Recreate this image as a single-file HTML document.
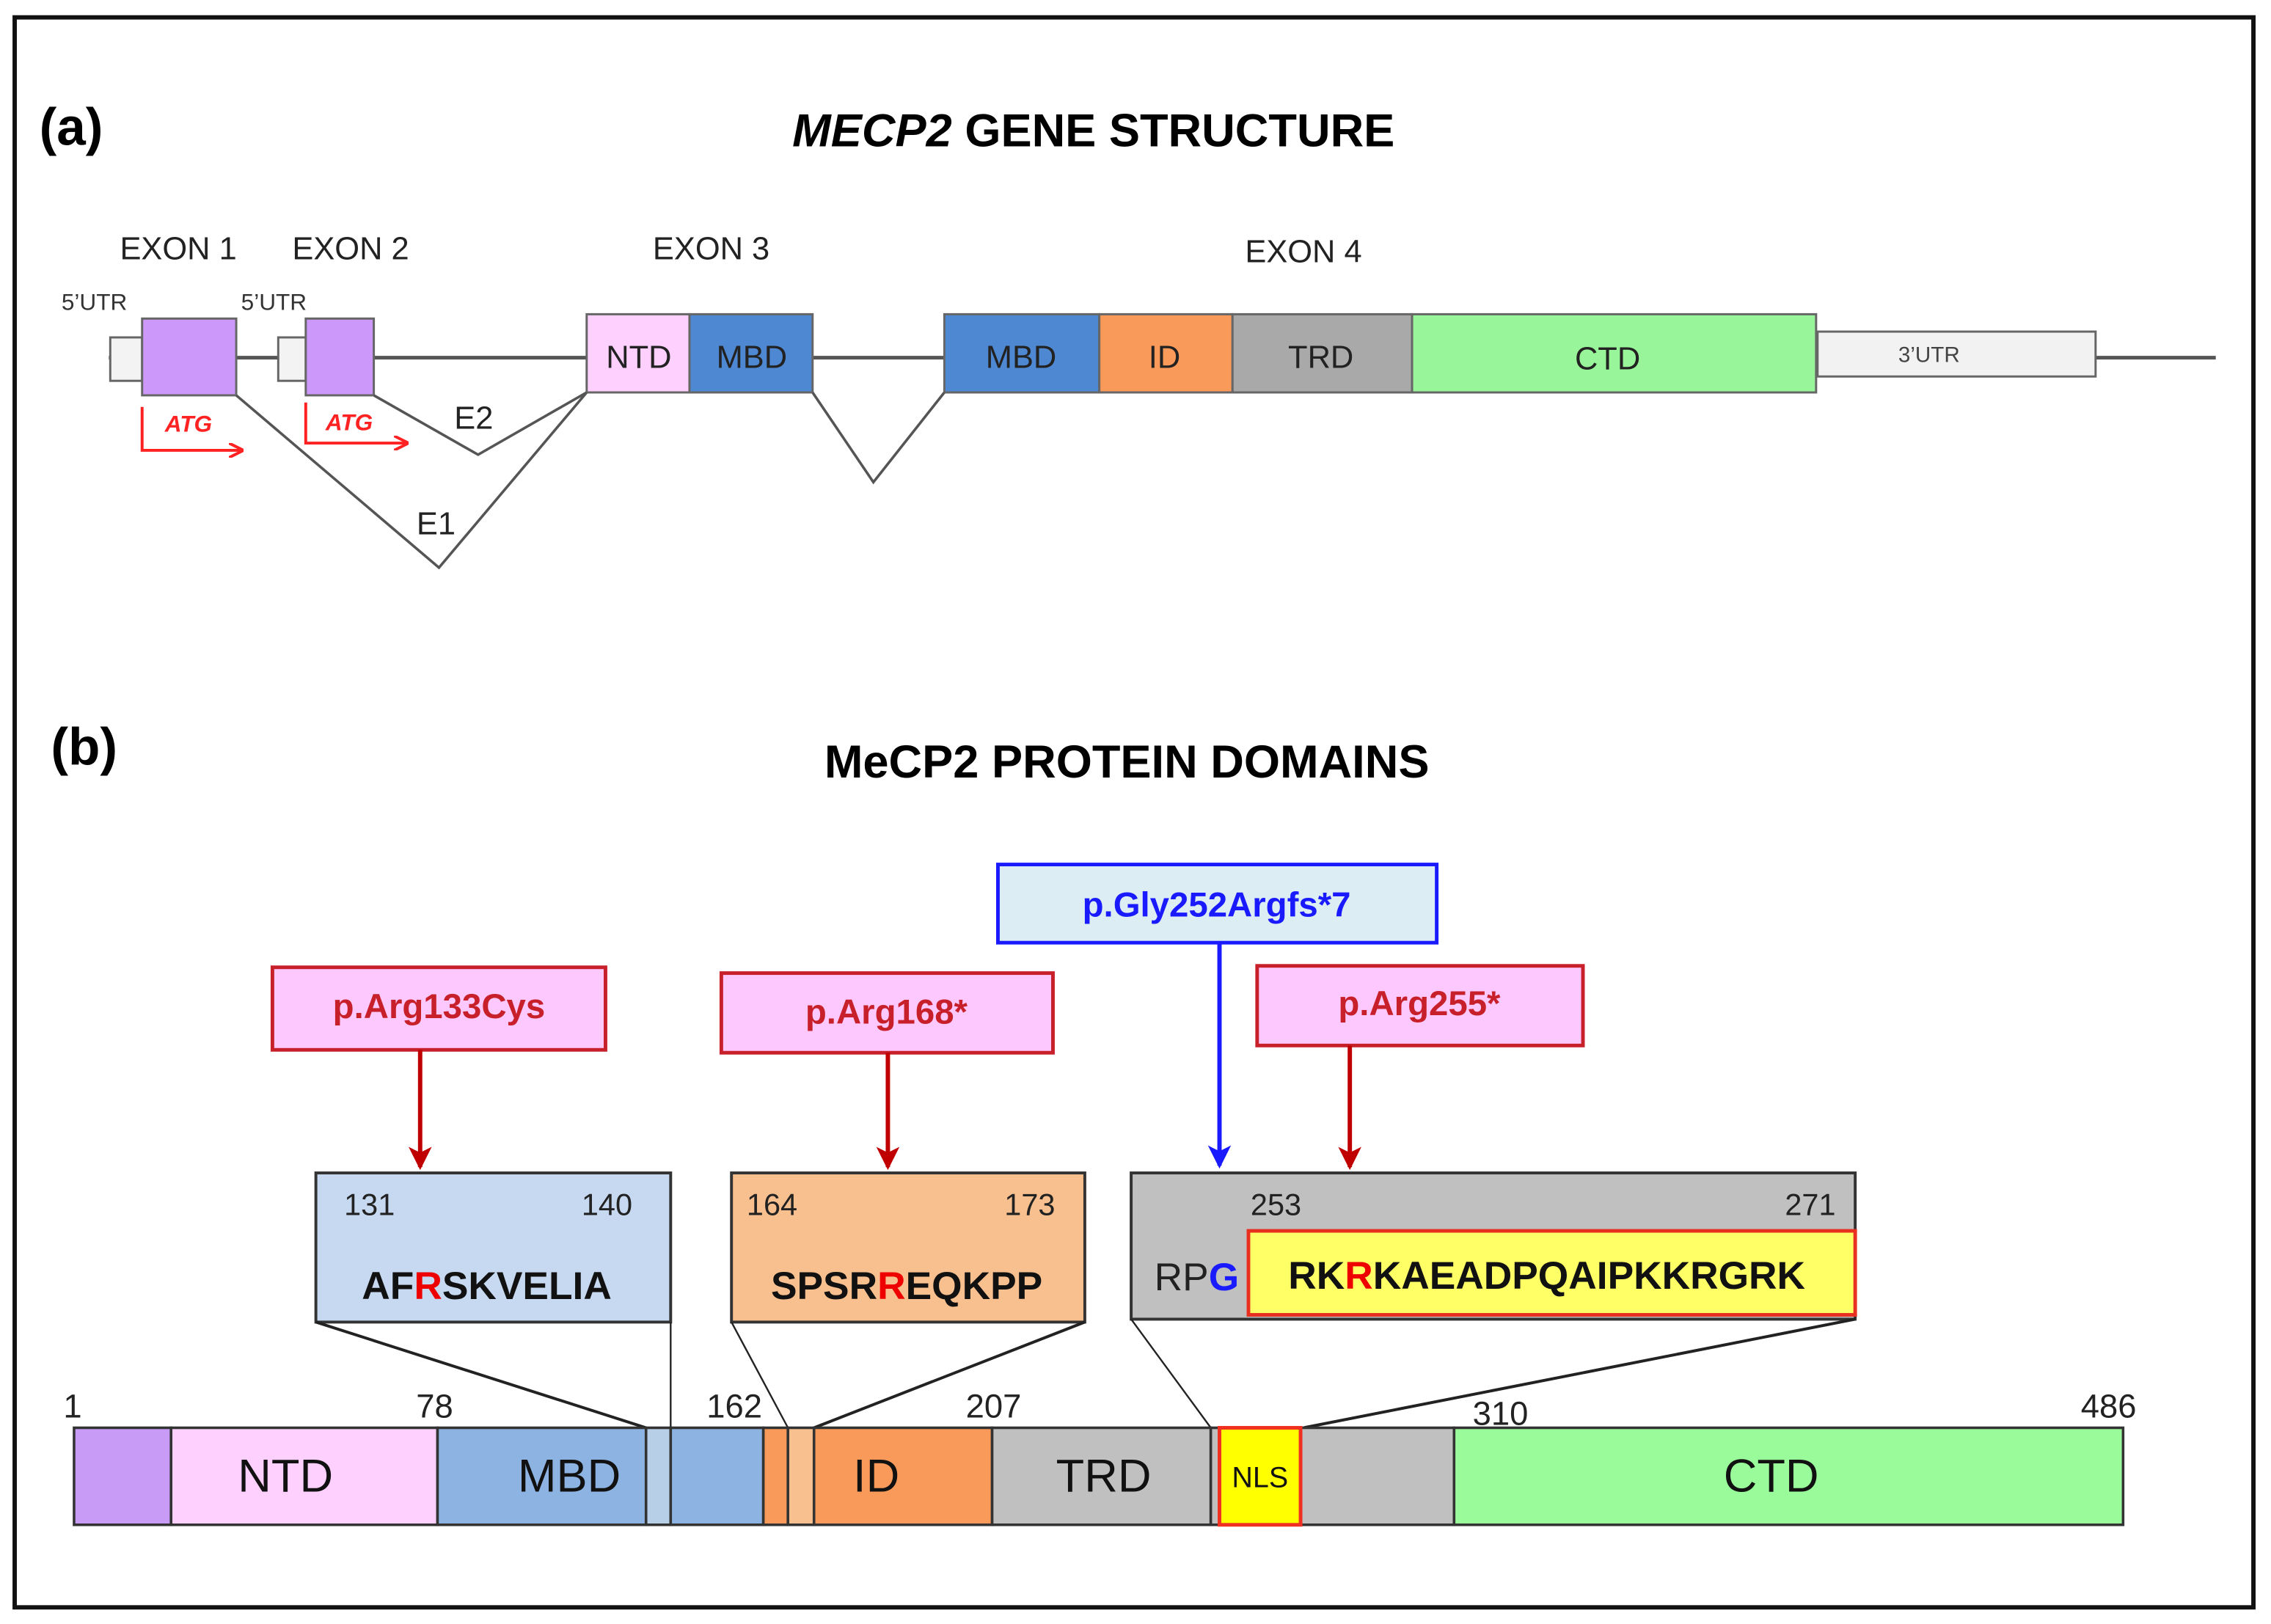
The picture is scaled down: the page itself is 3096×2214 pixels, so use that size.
<!DOCTYPE html>
<html><head><meta charset="utf-8"><style>
html,body{margin:0;padding:0;background:#fff}
svg{display:block}
text{font-family:"Liberation Sans",sans-serif}
</style></head><body>
<svg width="3096" height="2214" viewBox="0 0 1568 1121.5" xmlns="http://www.w3.org/2000/svg">
<defs>
<marker id="ar" markerWidth="10" markerHeight="10" refX="8" refY="5" orient="auto" markerUnits="userSpaceOnUse"><path d="M0,0 L10,5 L0,10" fill="none" stroke="#f22" stroke-width="2"/></marker>
<marker id="rd" markerWidth="16" markerHeight="16" refX="14" refY="8" orient="auto" markerUnits="userSpaceOnUse"><path d="M0,0 L16,8 L0,16 L4,8 z" fill="#c00000"/></marker>
<marker id="bl" markerWidth="16" markerHeight="16" refX="14" refY="8" orient="auto" markerUnits="userSpaceOnUse"><path d="M0,0 L16,8 L0,16 L4,8 z" fill="#1a1aff"/></marker>
</defs>
<rect x="0" y="0" width="1568" height="1122" fill="#fff"/>
<rect x="10" y="12" width="1546" height="1098" fill="none" stroke="#111" stroke-width="3"/>

<!-- (a) -->
<text x="27" y="100" font-size="36" font-weight="bold">(a)</text>
<text x="755" y="101" font-size="32" font-weight="bold" text-anchor="middle"><tspan font-style="italic">MECP2</tspan> GENE STRUCTURE</text>
<g font-size="22" fill="#222" text-anchor="middle">
<text x="123" y="179">EXON 1</text><text x="242" y="179">EXON 2</text>
<text x="491" y="179">EXON 3</text><text x="900" y="181">EXON 4</text>
</g>
<g font-size="16" fill="#333" text-anchor="middle"><text x="65" y="214">5’UTR</text><text x="189" y="214">5’UTR</text></g>
<line x1="75" y1="247" x2="1530" y2="247" stroke="#555" stroke-width="2.5"/>
<g stroke="#666" stroke-width="1.5">
<rect x="76" y="233" width="22" height="30" fill="#f3f3f3"/>
<rect x="98" y="220" width="65" height="53" fill="#cc99fa"/>
<rect x="192" y="233" width="19" height="30" fill="#f3f3f3"/>
<rect x="211" y="220" width="47" height="53" fill="#cc99fa"/>
<rect x="405" y="217" width="71" height="54" fill="#fdd0fd"/>
<rect x="476" y="217" width="85" height="54" fill="#4f88d2"/>
<rect x="652" y="217" width="107" height="54" fill="#4f88d2"/>
<rect x="759" y="217" width="92" height="54" fill="#fa9a5a"/>
<rect x="851" y="217" width="124" height="54" fill="#a9a9a9"/>
<rect x="975" y="217" width="279" height="54" fill="#99f599"/>
<rect x="1255" y="229" width="192" height="31" fill="#f2f2f2"/>
</g>
<g font-size="22" fill="#222" text-anchor="middle">
<text x="441" y="254">NTD</text><text x="519" y="254">MBD</text><text x="705" y="254">MBD</text>
<text x="804" y="254">ID</text><text x="912" y="254">TRD</text><text x="1110" y="255">CTD</text>
</g>
<text x="1332" y="250" font-size="15" fill="#444" text-anchor="middle">3’UTR</text>
<g fill="none" stroke="#555" stroke-width="1.8">
<polyline points="163,273 303,392 405,271"/>
<polyline points="258,273 330,314 405,271"/>
<polyline points="561,271 603,333 652,271"/>
</g>
<g font-size="22" fill="#222" text-anchor="middle"><text x="327" y="296">E2</text><text x="301" y="369">E1</text></g>
<g stroke="#f22" stroke-width="2" fill="none">
<polyline points="98,281 98,311 166,311" marker-end="url(#ar)"/>
<polyline points="211,278 211,306 280,306" marker-end="url(#ar)"/>
</g>
<g font-size="16" fill="#f22" font-weight="bold" font-style="italic" text-anchor="middle"><text x="130" y="298">ATG</text><text x="241" y="297">ATG</text></g>

<!-- (b) -->
<text x="35" y="528" font-size="36" font-weight="bold">(b)</text>
<text x="778" y="537" font-size="32" font-weight="bold" text-anchor="middle">MeCP2 PROTEIN DOMAINS</text>

<rect x="689" y="597" width="303" height="54" fill="#dcedf4" stroke="#1a1aff" stroke-width="2.5"/>
<text x="840" y="633" font-size="24" font-weight="bold" fill="#1a1aff" text-anchor="middle">p.Gly252Argfs*7</text>
<line x1="842" y1="651" x2="842" y2="805" stroke="#1a1aff" stroke-width="3" marker-end="url(#bl)"/>
<g stroke="#c8202a" stroke-width="2.5" fill="#fdc8fd">
<rect x="188" y="668" width="230" height="57"/>
<rect x="498" y="672" width="229" height="55"/>
<rect x="868" y="667" width="225" height="55"/>
</g>
<g font-size="24" font-weight="bold" fill="#c8202a" text-anchor="middle">
<text x="303" y="703">p.Arg133Cys</text><text x="612" y="707">p.Arg168*</text><text x="980" y="701">p.Arg255*</text>
</g>
<g stroke="#c00000" stroke-width="3">
<line x1="290" y1="725" x2="290" y2="806" marker-end="url(#rd)"/>
<line x1="613" y1="727" x2="613" y2="806" marker-end="url(#rd)"/>
<line x1="932" y1="722" x2="932" y2="806" marker-end="url(#rd)"/>
</g>

<g stroke="#333" stroke-width="2">
<rect x="218" y="810" width="245" height="103" fill="#c6d9f0"/>
<rect x="505" y="810" width="244" height="103" fill="#f9c08f"/>
<rect x="781" y="810" width="500" height="101" fill="#c0c0c0"/>
</g>
<rect x="862" y="850" width="419" height="58" fill="#ffff66" stroke="#e83020" stroke-width="2.5"/>
<g font-size="21" fill="#222" text-anchor="middle">
<text x="255" y="839">131</text><text x="419" y="839">140</text>
<text x="533" y="839">164</text><text x="711" y="839">173</text>
<text x="881" y="839">253</text><text x="1250" y="839">271</text>
</g>
<g font-size="27" font-weight="bold" fill="#111" text-anchor="middle">
<text x="336" y="897">AF<tspan fill="#e00">R</tspan>SKVELIA</text>
<text x="626" y="897">SPSR<tspan fill="#e00">R</tspan>EQKPP</text>
<text x="1068" y="890">RK<tspan fill="#e00">R</tspan>KAEADPQAIPKKRGRK</text>
</g>
<text x="797" y="891" font-size="27" fill="#222">RP<tspan fill="#1a1aff" font-weight="bold">G</tspan></text>

<g stroke="#222" fill="none">
<line x1="218" y1="913" x2="446" y2="986" stroke-width="2"/>
<line x1="463" y1="913" x2="463" y2="986" stroke-width="1.2"/>
<line x1="505" y1="913" x2="544" y2="986" stroke-width="1.2"/>
<line x1="749" y1="913" x2="562" y2="986" stroke-width="2"/>
<line x1="781" y1="911" x2="836" y2="986" stroke-width="1.2"/>
<line x1="1281" y1="911" x2="900" y2="986" stroke-width="2"/>
</g>

<g stroke="#333" stroke-width="1.8">
<rect x="51" y="986" width="67" height="67" fill="#c89bf7"/>
<rect x="118" y="986" width="184" height="67" fill="#fdd0fd"/>
<rect x="302" y="986" width="144" height="67" fill="#8cb3e2"/>
<rect x="446" y="986" width="17" height="67" fill="#b8cfe8"/>
<rect x="463" y="986" width="64" height="67" fill="#8cb3e2"/>
<rect x="527" y="986" width="17" height="67" fill="#fa9a5a"/>
<rect x="544" y="986" width="18" height="67" fill="#f9c08f"/>
<rect x="562" y="986" width="123" height="67" fill="#fa9a5a"/>
<rect x="685" y="986" width="151" height="67" fill="#c0c0c0"/>
<rect x="836" y="986" width="6" height="67" fill="#c0c0c0"/>
<rect x="898" y="986" width="106" height="67" fill="#c0c0c0"/>
<rect x="1004" y="986" width="462" height="67" fill="#99fb99"/>
</g>
<rect x="842" y="986" width="56" height="67" fill="#ffff00" stroke="#f03020" stroke-width="2.5"/>
<g font-size="32" fill="#111" text-anchor="middle">
<text x="197" y="1030">NTD</text><text x="393" y="1030">MBD</text><text x="605" y="1030">ID</text>
<text x="762" y="1030">TRD</text><text x="1223" y="1030">CTD</text>
</g>
<text x="870" y="1027" font-size="20" fill="#111" text-anchor="middle">NLS</text>
<g font-size="23" fill="#222" text-anchor="middle">
<text x="50" y="979">1</text><text x="300" y="979">78</text><text x="507" y="979">162</text>
<text x="686" y="979">207</text><text x="1036" y="984">310</text><text x="1456" y="979">486</text>
</g>
</svg>
</body></html>
